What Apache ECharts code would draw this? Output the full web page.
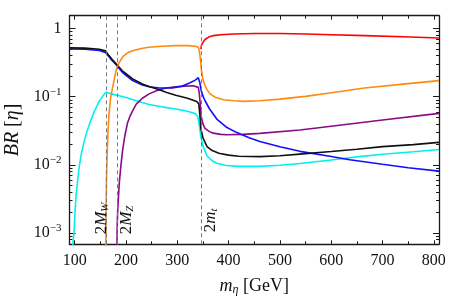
<!DOCTYPE html>
<html><head><meta charset="utf-8">
<script src="https://cdn.jsdelivr.net/npm/echarts@6/dist/echarts.min.js"></script>
<style>html,body{margin:0;padding:0;background:#fff}#c{width:449px;height:303px}</style>
</head><body><div id="c"></div>
<script>
const xMajorTicks = [100, 200, 300, 400, 500, 600, 700, 800];
const xMinorTicks = [150, 250, 350, 450, 550, 650, 750];
const yMajorTicks = [0.001, 0.01, 0.1, 1];
const yMinorTicks = [0.0008, 0.0009, 0.002, 0.003, 0.004, 0.005, 0.006, 0.007, 0.008, 0.009,
  0.02, 0.03, 0.04, 0.05, 0.06, 0.07, 0.08, 0.09, 0.2, 0.3, 0.4, 0.5, 0.6, 0.7, 0.8, 0.9];
const thresholds = [160.8, 182.4, 346];
const thresholdLabels = ['2{i|M}{sub|W}', '2{i|M}{sub|Z}', '2{i|m}{sub|t}'];

const blackBR = [[90,0.52],[120,0.515],[148,0.495],[160,0.47],[163,0.45],[167,0.40],[172,0.36],[180,0.31],[193,0.24],[213,0.182],[232,0.154],[245,0.141],[265,0.126],[278,0.116],[297,0.105],[320,0.095],[338,0.085],[342,0.078],[344,0.055],[346,0.034],[350,0.025],[358,0.0185],[368,0.0162],[381,0.0148],[400,0.0139],[420,0.0134],[461,0.0132],[500,0.0136],[539,0.0144],[600,0.0157],[650,0.017],[700,0.0185],[760,0.0198],[810,0.0214]];
const blueBR = [[90,0.50],[120,0.495],[148,0.475],[160,0.445],[163,0.43],[167,0.385],[172,0.345],[180,0.30],[193,0.228],[213,0.172],[232,0.148],[245,0.14],[265,0.134],[290,0.134],[310,0.143],[325,0.16],[335,0.175],[341,0.19],[344,0.16],[347,0.12],[351,0.098],[355,0.085],[363,0.066],[377,0.047],[395,0.036],[415,0.03],[440,0.025],[461,0.022],[500,0.0185],[539,0.0158],[600,0.0133],[636,0.0119],[700,0.0102],[750,0.0091],[810,0.0081]];
const cyanBR = [[95,0.0004],[97,0.00075],[99,0.0011],[101,0.0022],[103,0.0037],[106,0.006],[109,0.0094],[113,0.0145],[118,0.021],[123,0.029],[130,0.042],[138,0.06],[148,0.086],[155,0.102],[161,0.116],[170,0.111],[185,0.104],[200,0.097],[220,0.087],[245,0.077],[270,0.071],[297,0.066],[320,0.061],[336,0.056],[340,0.051],[343,0.038],[346,0.026],[350,0.019],[358,0.0135],[368,0.0115],[377,0.0106],[395,0.0098],[420,0.0095],[460,0.0095],[500,0.0099],[539,0.0105],[600,0.0118],[650,0.0131],[700,0.0143],[760,0.0156],[810,0.0168]];
const orangeBR = [[160.8,0.0001],[161.2,0.002],[162,0.006],[163.5,0.015],[165,0.03],[167,0.056],[170,0.095],[174,0.137],[181,0.246],[187,0.32],[194,0.386],[203,0.44],[213,0.473],[230,0.51],[245,0.53],[270,0.55],[297,0.56],[320,0.56],[335,0.55],[341,0.53],[343,0.47],[345,0.36],[347,0.25],[350,0.18],[354,0.145],[358,0.127],[364,0.11],[375,0.097],[390,0.09],[410,0.087],[430,0.0855],[461,0.087],[500,0.092],[550,0.101],[597,0.113],[665,0.134],[740,0.153],[810,0.172]];
const purpleBR = [[182.4,0.0001],[182.7,0.001],[183.5,0.0018],[185,0.003],[187,0.0054],[190,0.0095],[193.5,0.0165],[198,0.027],[203,0.041],[208,0.052],[213,0.062],[220,0.078],[232,0.095],[245,0.11],[262,0.124],[278,0.134],[297,0.14],[315,0.143],[331,0.145],[341,0.137],[343,0.11],[345,0.075],[347,0.05],[350,0.04],[354,0.0343],[362,0.031],[370,0.0292],[385,0.028],[396,0.0276],[428,0.028],[461,0.029],[539,0.0325],[600,0.0369],[700,0.0454],[810,0.057]];
const redBR = [[346,0.5],[347,0.56],[348.5,0.6],[351,0.64],[354,0.69],[357,0.725],[362,0.755],[370,0.785],[385,0.81],[409,0.83],[451,0.845],[500,0.845],[550,0.83],[600,0.81],[665,0.785],[740,0.755],[810,0.725]];

const FONT = 'Liberation Serif';
const frameColor = '#1a1a1a';

function xAx(pos, ticks, len, major) {
  return {
    type: 'value', min: 90, max: 810, position: pos,
    axisLine: { show: major, lineStyle: { color: frameColor, width: 1.3 } },
    axisTick: { show: true, inside: true, length: len, customValues: ticks, lineStyle: { color: frameColor, width: 1 } },
    axisLabel: { show: major && pos === 'bottom', customValues: ticks, color: '#111', fontFamily: FONT, fontSize: 16, margin: 8 },
    splitLine: { show: false }
  };
}
function yAx(pos, ticks, len, major) {
  return {
    type: 'log', logBase: 10, min: 0.000685, max: 1.54, position: pos,
    axisLine: { show: major, lineStyle: { color: frameColor, width: 1.3 } },
    axisTick: { show: true, inside: true, length: len, customValues: ticks, lineStyle: { color: frameColor, width: 1 } },
    axisLabel: {
      show: major && pos === 'left', customValues: ticks, color: '#111', fontFamily: FONT, fontSize: 16, margin: 8,
      formatter: function (v) {
        const e = Math.round(Math.log10(v));
        return e === 0 ? '1' : '10{sup|\u2212' + (-e) + '}';
      },
      rich: { sup: { fontSize: 11, fontFamily: FONT, color: '#111', padding: [0, 0, 10, 0] } }
    },
    splitLine: { show: false }
  };
}

const xAxes = [xAx('bottom', xMajorTicks, 4, true), xAx('bottom', xMinorTicks, 3, false), xAx('top', xMajorTicks, 4, true), xAx('top', xMinorTicks, 3, false)];
xAxes[0].name = '{i|m}{sub|\u03b7} [GeV]';
xAxes[0].nameLocation = 'middle';
xAxes[0].nameGap = 31;
xAxes[0].nameTextStyle = { fontFamily: FONT, fontSize: 18, color: '#111',
  rich: { i: { fontStyle: 'italic', fontFamily: FONT, fontSize: 18 }, sub: { fontStyle: 'italic', fontFamily: FONT, fontSize: 12, padding: [9, 0, 0, 0] } } };
const yAxes = [yAx('left', yMajorTicks, 6, true), yAx('left', yMinorTicks, 3, false), yAx('right', yMajorTicks, 6, true), yAx('right', yMinorTicks, 3, false)];
yAxes[0].name = '{i|BR} [{i|\u03b7}]';
yAxes[0].nameLocation = 'middle';
yAxes[0].nameRotate = 90;
yAxes[0].nameGap = 46;
yAxes[0].nameTextStyle = { fontFamily: FONT, fontSize: 20, color: '#111', rich: { i: { fontStyle: 'italic', fontFamily: FONT, fontSize: 20 } } };

const labelPos = ['insideStartTop', 'insideStartBottom', 'insideStartBottom'];
const labelDist = [[10, -5], [10, 0], [12, 0]];
const markData = thresholds.map((t, i) => ({
  xAxis: t,
  label: {
    show: true, formatter: thresholdLabels[i], position: labelPos[i], distance: labelDist[i],
    fontFamily: FONT, fontSize: 17, color: '#111',
    rich: { i: { fontStyle: 'italic', fontFamily: FONT, fontSize: 17 }, sub: { fontStyle: 'italic', fontFamily: FONT, fontSize: 11, padding: [8, 0, 0, 0] } }
  }
}));

function line(name, data, color, extra) {
  return Object.assign({ name, type: 'line', data, showSymbol: false, symbol: 'none', clip: true,
    lineStyle: { color, width: 1.6 }, itemStyle: { color }, animation: false }, extra || {});
}

const series = [
  line('dashes', [], '#888', { markLine: { silent: true, symbol: 'none', animation: false,
    lineStyle: { type: [4, 3], color: '#7a7a7a', width: 1 }, data: markData } }),
  line('cyan', cyanBR, '#00f0f0'),
  line('purple', purpleBR, '#8a0a8a'),
  line('blue', blueBR, '#1010ff'),
  line('black', blackBR, '#111111'),
  line('orange', orangeBR, '#ff8a10'),
  line('red', redBR, '#ff0000')
];

const chart = echarts.init(document.getElementById('c'), null, { renderer: 'canvas' });
chart.setOption({
  animation: false,
  backgroundColor: '#fff',
  grid: { left: 69.5, right: 10, top: 15.7, bottom: 58.7, outerBoundsMode: 'none' },
  xAxis: xAxes,
  yAxis: yAxes,
  series
});
</script></body></html>
